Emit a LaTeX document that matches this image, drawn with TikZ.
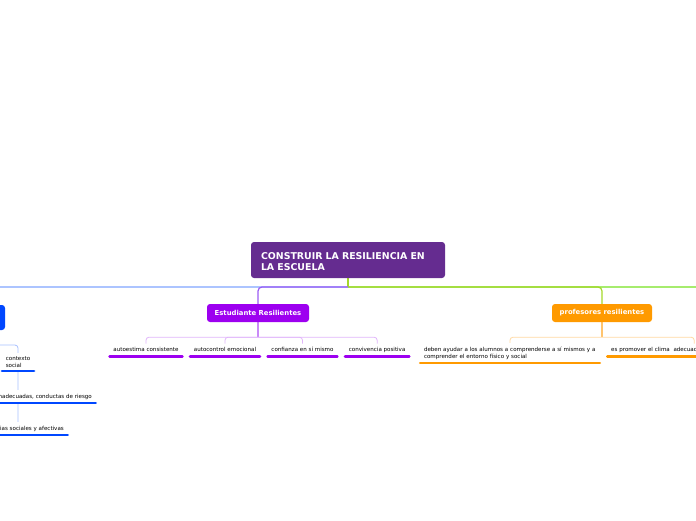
\documentclass[tikz,border=0pt]{standalone}
\usepackage{fontspec}
\setmainfont{DejaVu Sans}
\usetikzlibrary{positioning}
\usetikzlibrary{backgrounds}

\definecolor{rootViolet}{HTML}{652C90}
\definecolor{studViolet}{HTML}{9D00F0}
\definecolor{studLine}{HTML}{9B5CF5}
\definecolor{studStem}{HTML}{C98AF8}
\definecolor{studLight}{HTML}{E0B5FA}
\definecolor{profOrange}{HTML}{FF9A00}
\definecolor{profStem}{HTML}{FFC46E}
\definecolor{profLight}{HTML}{FFD9A3}
\definecolor{ctxBlue}{HTML}{0047FF}
\definecolor{ctxLine}{HTML}{80A4FF}
\definecolor{ctxLight}{HTML}{A8C0FF}
\definecolor{limeLine}{HTML}{A4D82A}
\definecolor{greenLine}{HTML}{A6EC6E}

\def\rootFont{\fontsize{9.4}{11}\selectfont\bfseries}
\def\headFont{\fontsize{6.85}{8}\selectfont\bfseries}
\def\leafFont{\fontsize{5.55}{7}\selectfont}

\tikzset{% mind map styles
  topic/.style   = {rectangle, rounded corners=3pt, text=white, inner sep=0pt,
    minimum height=18pt, font=\headFont},
  rootbox/.style = {topic, fill=rootViolet, minimum width=194pt, minimum height=36pt,
    font=\rootFont, align=left, text width=174pt},
  leaf/.style    = {rectangle, fill=white, inner xsep=5pt, inner ysep=3.5pt,
    font=\leafFont, align=left, anchor=south},
  oneline/.style = {leaf, text height=4.2pt, text depth=1.3pt},
  bar/.style     = {line width=2.6pt, line cap=round, shorten <=1.3pt, shorten >=1.3pt},
  hub/.style     = {line width=1.2pt},
  twig/.style    = {line width=0.8pt, rounded corners=3pt},
}

\begin{document}
\begin{tikzpicture}[x=1pt, y=-1pt]
\useasboundingbox (0,0) rectangle (696,520);

% Central topic
\node[rootbox] (Root) at (348,260) {};
\node[font=\rootFont, text=white, align=left, text width=174pt, inner sep=0pt] (RootText)
  at ([yshift=-1.5pt]Root.center) {CONSTRUIR LA RESILIENCIA EN\\LA ESCUELA};
\coordinate (Hub) at (348,287);
\coordinate (Next) at (780,287);

% Main branches
\node[topic, fill=ctxBlue, minimum width=90pt, minimum height=25pt] (Ctx) at (-40,317.5) {};
\node[topic, fill=studViolet, minimum width=102pt] (Stud) at (258,313) {Estudiante Resilientes};
\node[topic, fill=profOrange, minimum width=100pt] (Prof) at (602,313) {profesores resilientes};

% Estudiante children
\node[oneline] (StudA) at (146,356.5) {autoestima consistente};
\node[oneline, right=5pt of StudA] (StudB) {autocontrol emocional};
\node[oneline, right=5pt of StudB] (StudC) {confianza en sí mismo};
\node[oneline, right=5pt of StudC] (StudD) {convivencia positiva};

% Profesores children
\node[leaf, text width=172pt] (ProfA) at (510,363)
  {deben ayudar a los alumnos a comprenderse a sí mismos y a\\comprender el entorno físico y social};
\node[oneline, anchor=south west, text width=166pt] (ProfB) at (606,356.5)
  {es promover el clima\ \ adecuad};

% Left branch children
\node[leaf] (CtxA) at (18,371) {contexto\\social};
\node[oneline, anchor=south east] (CtxB) at (97,403) {nadecuadas, conductas de riesgo};
\node[oneline, anchor=south east] (CtxC) at (69,435) {cias sociales y afectivas};

% Connectors
\begin{scope}[on background layer]
  \draw[hub, ctxLine, rounded corners=4pt] (Hub) -| (Ctx.north);
  \draw[hub, greenLine] (Hub) -- (Next);
  \draw[hub, limeLine] (Root.south) -- (Hub);
  \draw[hub, limeLine, rounded corners=4pt] (Hub) -| (Prof.north);
  \draw[hub, studLine, rounded corners=4pt] (Hub) -| (Stud.north);

  \path (Stud.south) ++(0,15) coordinate (StudFork);
  \draw[hub, studStem] (Stud.south) -- (StudFork);
  \foreach \n in {StudA,StudB,StudC,StudD}
    \draw[twig, studLight] (StudFork) -| (\n.north);

  \path (Prof.south) ++(0,15) coordinate (ProfFork);
  \draw[hub, profStem] (Prof.south) -- (ProfFork);
  \foreach \n in {ProfA,ProfB}
    \draw[twig, profLight] (ProfFork) -| (\n.north);

  \coordinate (CtxTurn) at (18,345);
  \draw[twig, ctxLight] (Ctx.south) |- (CtxTurn) -- (CtxTurn |- CtxC.north);
\end{scope}

% Underlines
\foreach \n in {StudA,StudB,StudC,StudD}
  \draw[bar, studViolet] (\n.south west) -- (\n.south east);
\foreach \n in {ProfA,ProfB}
  \draw[bar, profOrange] (\n.south west) -- (\n.south east);
\foreach \n in {CtxA,CtxB,CtxC}
  \draw[bar, ctxBlue] (\n.south west) -- (\n.south east);
\end{tikzpicture}
\end{document}
